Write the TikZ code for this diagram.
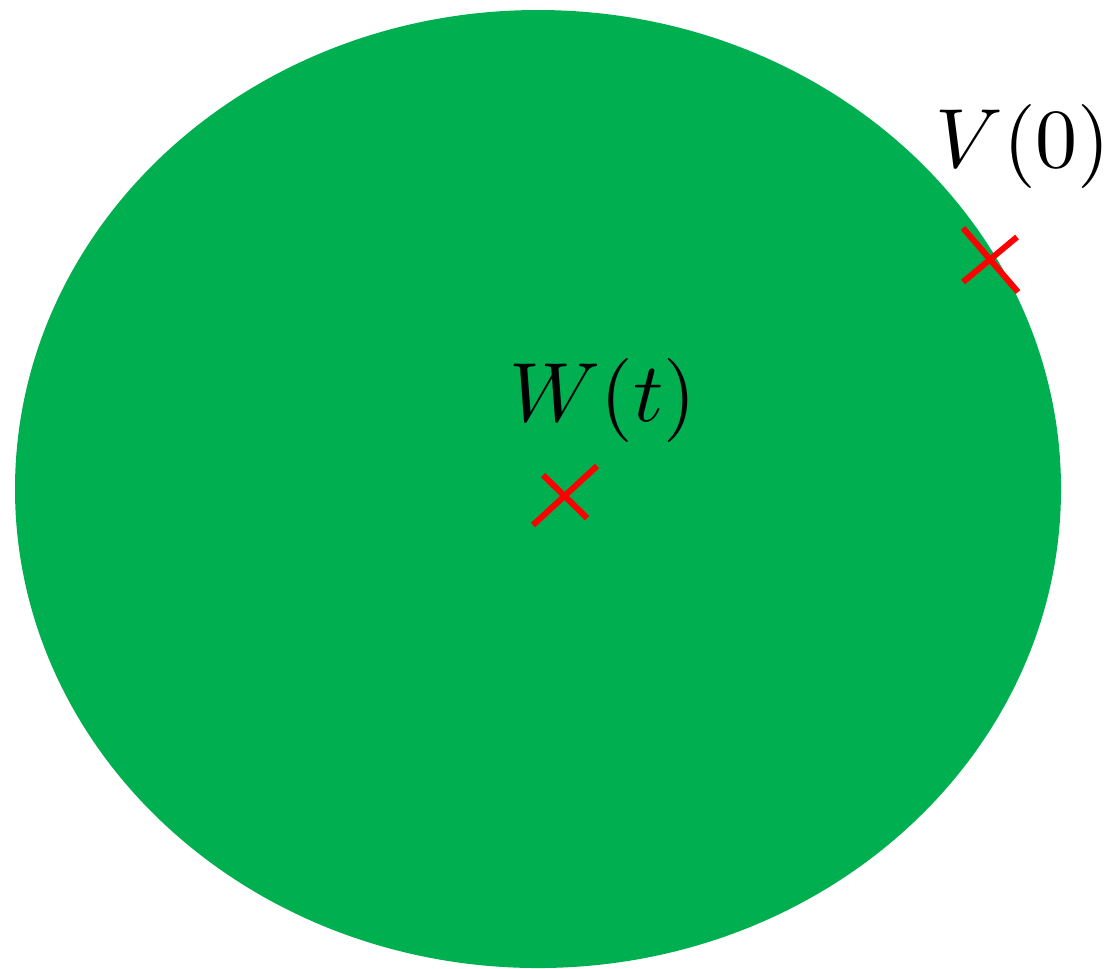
\documentclass[tikz,border=0pt]{standalone}
\usetikzlibrary{calc}
\definecolor{setgreen}{HTML}{00AF50}
\definecolor{markred}{HTML}{FF0000}

\begin{document}
\begin{tikzpicture}[x=0.25pt,y=-0.25pt,
  cross/.style={draw=markred,line width=1.5pt},
  lbl/.style={anchor=base west,inner sep=0pt,scale=2.1,transform shape}]
  \useasboundingbox (0,0) rectangle (1110,968);
  \fill[setgreen] (538,489) ellipse [x radius=130.75pt,y radius=119.75pt];
  \coordinate (w) at (565,496);
  \coordinate (v) at (990,260);
  \draw[cross] ($(w)+(-32,29)$) -- ($(w)+(32,-30)$);
  \draw[cross] ($(w)+(-22,-21)$) -- ($(w)+(22,22)$);
  \draw[cross] ($(v)+(-27,22)$) -- ($(v)+(27,-23)$);
  \draw[cross] ($(v)+(-27,-32)$) -- ($(v)+(28,32)$);
  \node[lbl] (wlabel) at (508,421) {$W(t)$};
  \node[lbl] (vlabel) at (934,167) {$V(0)$};
\end{tikzpicture}
\end{document}
